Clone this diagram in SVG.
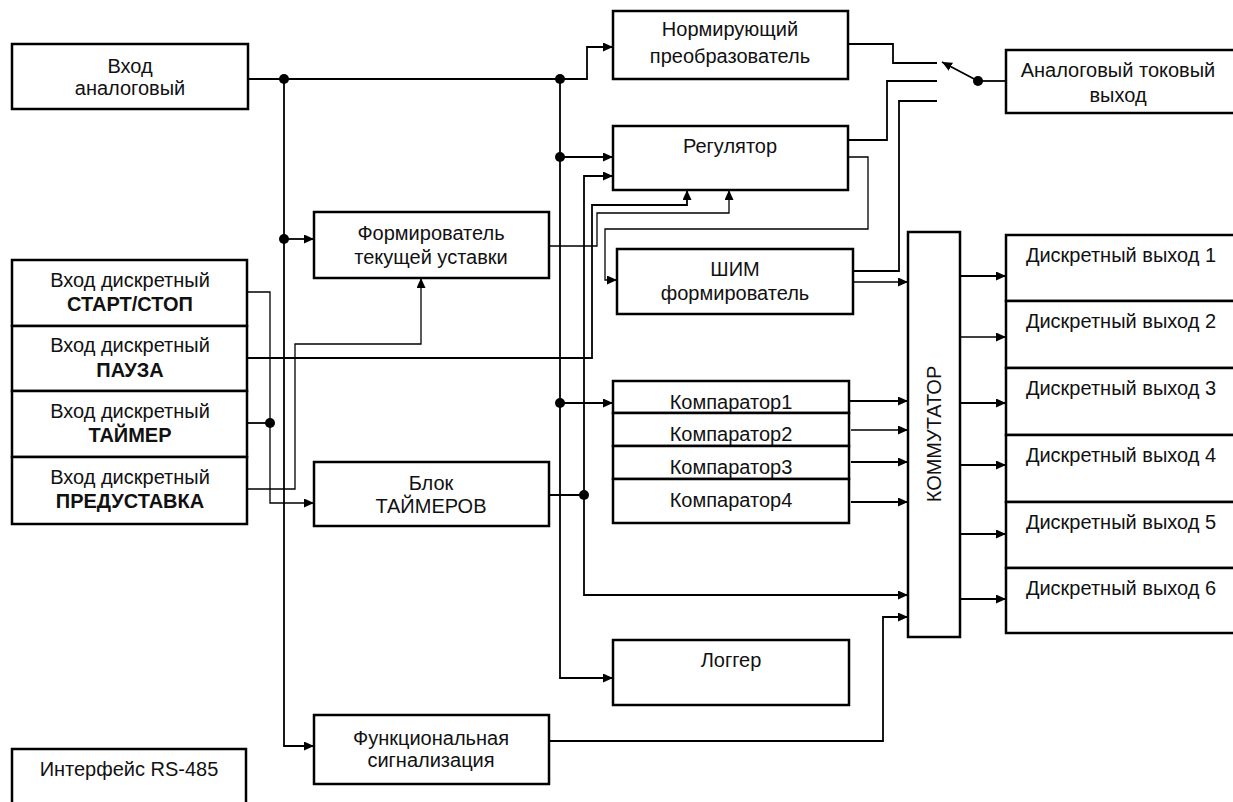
<svg xmlns="http://www.w3.org/2000/svg" width="1233" height="802" viewBox="0 0 1233 802">
  <style>
    .box { fill: #fff; stroke: #000; stroke-width: 2.5; }
    .ln { fill: none; stroke: #000; stroke-width: 1.8; }
    .tn { fill: none; stroke: #000; stroke-width: 1.3; }
    .arr { marker-end: url(#ah); }
    .dot { fill: #000; }
    text { font-family: "Liberation Sans", Arial, sans-serif; font-size: 20px; fill: #111; text-anchor: middle; }
    .b { font-weight: bold; }
  </style>
  <defs>
    <marker id="ah" markerUnits="userSpaceOnUse" markerWidth="11" markerHeight="9" refX="10" refY="4.5" orient="auto">
      <path d="M0,0 L10,4.5 L0,9 z" fill="#000"/>
    </marker>
  </defs>

  <rect width="1233" height="802" fill="#fff"/>

  <!-- connectors -->
  <g id="connectors">
    <!-- analog input bus -->
    <path class="ln arr" d="M248,79 H587 V47 H613"/>
    <path class="ln arr" d="M284,79 V746 H314"/>
    <path class="ln arr" d="M284,239 H314"/>
    <path class="ln arr" d="M560,79 V678 H613"/>
    <path class="ln arr" d="M560,157 H613"/>
    <path class="ln arr" d="M560,403 H613"/>
    <!-- timer block bus -->
    <path class="ln" d="M549,495 H584"/>
    <path class="ln arr" d="M584,495 V176 H613"/>
    <path class="ln arr" d="M584,495 V595 H908"/>
    <!-- discrete inputs -->
    <path class="ln arr" d="M247,358 H592 V205 H687 V190"/>
    <path class="tn arr" d="M247,292 H270 V503 H314"/>
    <path class="ln" d="M247,423 H270"/>
    <path class="tn arr" d="M247,489 H295 V344 H421 V278"/>
    <!-- setpoint former to controller -->
    <path class="tn arr" d="M549,246 H597 V213 H729 V190"/>
    <!-- controller to PWM -->
    <path class="tn arr" d="M848,157 H868 V229 H605 V280 H617"/>
    <!-- analog output switch contacts -->
    <path class="ln" d="M848,44 H893 V63 H937"/>
    <path class="ln" d="M848,140 H887 V81 H937"/>
    <path class="ln" d="M853,271 H899 V101 H937"/>
    <path class="ln arr" d="M978,81 L942,62"/>
    <path class="ln" d="M978,81 H1006"/>
    <!-- PWM to switchboard -->
    <path class="tn arr" d="M853,282 H908"/>
    <!-- comparators to switchboard -->
    <path class="ln arr" d="M849,401 H908"/>
    <path class="tn arr" d="M851,430 H908"/>
    <path class="ln arr" d="M851,462 H908"/>
    <path class="ln arr" d="M851,502 H908"/>
    <!-- alarm to switchboard -->
    <path class="ln arr" d="M549,741 H883 V617 H908"/>
    <!-- switchboard to discrete outputs -->
    <path class="ln arr" d="M960,276 H1006"/>
    <path class="tn arr" d="M960,337 H1006"/>
    <path class="ln arr" d="M960,403 H1006"/>
    <path class="ln arr" d="M960,465 H1006"/>
    <path class="ln arr" d="M960,534 H1006"/>
    <path class="ln arr" d="M960,599 H1006"/>
    <!-- junctions -->
    <circle class="dot" cx="284" cy="79" r="5"/>
    <circle class="dot" cx="560" cy="79" r="5"/>
    <circle class="dot" cx="284" cy="239" r="5"/>
    <circle class="dot" cx="560" cy="157" r="5"/>
    <circle class="dot" cx="560" cy="403" r="5"/>
    <circle class="dot" cx="584" cy="495" r="5"/>
    <circle class="dot" cx="270" cy="423" r="5"/>
    <circle class="dot" cx="978" cy="81" r="5"/>
  </g>

  <!-- nodes -->
  <g id="in-analog">
    <rect class="box" x="12" y="44" width="236" height="65"/>
    <text x="130" y="73">Вход</text>
    <text x="130" y="95">аналоговый</text>
  </g>
  <g id="normalizer">
    <rect class="box" x="613" y="11" width="235" height="68"/>
    <text x="730" y="36">Нормирующий</text>
    <text x="730" y="63">преобразователь</text>
  </g>
  <g id="regulator">
    <rect class="box" x="613" y="126" width="235" height="64"/>
    <text x="730" y="153">Регулятор</text>
  </g>
  <g id="setpoint-former">
    <rect class="box" x="314" y="212" width="235" height="66"/>
    <text x="431" y="240">Формирователь</text>
    <text x="431" y="264">текущей уставки</text>
  </g>
  <g id="pwm">
    <rect class="box" x="617" y="249" width="236" height="65"/>
    <text x="735" y="276">ШИМ</text>
    <text x="735" y="300">формирователь</text>
  </g>
  <g id="di-startstop">
    <rect class="box" x="12" y="260" width="235" height="66"/>
    <text x="130" y="287">Вход дискретный</text>
    <text class="b" x="130" y="311">СТАРТ/СТОП</text>
  </g>
  <g id="di-pause">
    <rect class="box" x="12" y="326" width="235" height="65"/>
    <text x="130" y="352">Вход дискретный</text>
    <text class="b" x="130" y="377">ПАУЗА</text>
  </g>
  <g id="di-timer">
    <rect class="box" x="12" y="391" width="235" height="66"/>
    <text x="130" y="418">Вход дискретный</text>
    <text class="b" x="130" y="442">ТАЙМЕР</text>
  </g>
  <g id="di-preset">
    <rect class="box" x="12" y="457" width="235" height="67"/>
    <text x="130" y="484">Вход дискретный</text>
    <text class="b" x="130" y="508">ПРЕДУСТАВКА</text>
  </g>
  <g id="timers">
    <rect class="box" x="314" y="462" width="235" height="64"/>
    <text x="431" y="490">Блок</text>
    <text x="431" y="513">ТАЙМЕРОВ</text>
  </g>
  <g id="comparator1">
    <rect class="box" x="613" y="381" width="236" height="32"/>
    <text x="731" y="409">Компаратор1</text>
  </g>
  <g id="comparator2">
    <rect class="box" x="613" y="413" width="236" height="33"/>
    <text x="731" y="441">Компаратор2</text>
  </g>
  <g id="comparator3">
    <rect class="box" x="613" y="446" width="236" height="33"/>
    <text x="731" y="474">Компаратор3</text>
  </g>
  <g id="comparator4">
    <rect class="box" x="613" y="479" width="236" height="44"/>
    <text x="731" y="507">Компаратор4</text>
  </g>
  <g id="switchboard">
    <rect class="box" x="908" y="232" width="52" height="405"/>
    <text x="0" y="0" transform="translate(941,434) rotate(-90)">КОММУТАТОР</text>
  </g>
  <g id="analog-out">
    <rect class="box" x="1006" y="50" width="230" height="63"/>
    <text x="1118" y="77">Аналоговый токовый</text>
    <text x="1118" y="102">выход</text>
  </g>
  <g id="do1">
    <rect class="box" x="1006" y="235" width="230" height="66"/>
    <text x="1121" y="262">Дискретный выход 1</text>
  </g>
  <g id="do2">
    <rect class="box" x="1006" y="301" width="230" height="67"/>
    <text x="1121" y="328">Дискретный выход 2</text>
  </g>
  <g id="do3">
    <rect class="box" x="1006" y="368" width="230" height="67"/>
    <text x="1121" y="395">Дискретный выход 3</text>
  </g>
  <g id="do4">
    <rect class="box" x="1006" y="435" width="230" height="67"/>
    <text x="1121" y="462">Дискретный выход 4</text>
  </g>
  <g id="do5">
    <rect class="box" x="1006" y="502" width="230" height="66"/>
    <text x="1121" y="529">Дискретный выход 5</text>
  </g>
  <g id="do6">
    <rect class="box" x="1006" y="568" width="230" height="65"/>
    <text x="1121" y="595">Дискретный выход 6</text>
  </g>
  <g id="logger">
    <rect class="box" x="613" y="640" width="236" height="65"/>
    <text x="731" y="667">Логгер</text>
  </g>
  <g id="alarm">
    <rect class="box" x="314" y="715" width="235" height="69"/>
    <text x="431" y="745">Функциональная</text>
    <text x="431" y="767">сигнализация</text>
  </g>
  <g id="rs485">
    <rect class="box" x="12" y="749" width="234" height="70"/>
    <text x="129" y="776">Интерфейс RS-485</text>
  </g>
</svg>
